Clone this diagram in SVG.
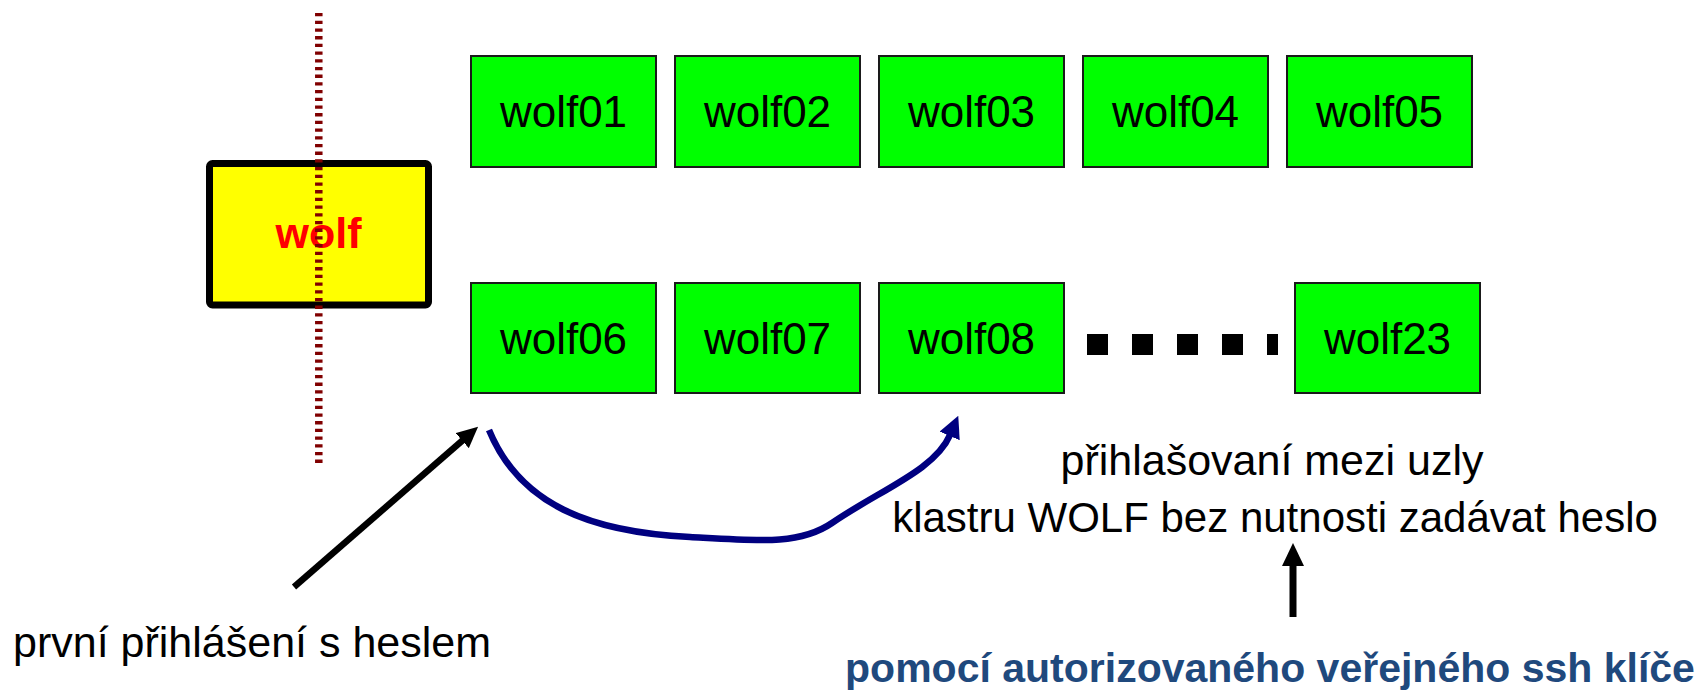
<svg xmlns="http://www.w3.org/2000/svg" width="1706" height="694" viewBox="0 0 1706 694">
<style>
  .node rect { fill: #00FF00; stroke: #1a1a1a; stroke-width: 2; }
  .node text { font-family: "Liberation Sans", Arial, sans-serif; font-size: 44px; fill: #000; text-anchor: middle; }
  .lbl { font-family: "Liberation Sans", Arial, sans-serif; fill: #000; }
</style>
<defs>
  <marker id="ahBlack" markerUnits="userSpaceOnUse" viewBox="0 -10 21 20" markerWidth="21" markerHeight="20" refX="1" refY="0" orient="auto">
    <path d="M0,-10 L21,0 L0,10 z" fill="#000"/>
  </marker>
  <marker id="ahUp" markerUnits="userSpaceOnUse" viewBox="0 -11 23 22" markerWidth="23" markerHeight="22" refX="1" refY="0" orient="auto">
    <path d="M0,-11 L23,0 L0,11 z" fill="#000"/>
  </marker>
  <marker id="ahBlue" markerUnits="userSpaceOnUse" viewBox="0 -11 22 22" markerWidth="22" markerHeight="22" refX="1" refY="0" orient="auto">
    <path d="M0,-11 L22,0 L0,11 z" fill="#000080"/>
  </marker>
</defs>
<rect x="0" y="0" width="1706" height="694" fill="#fff"/>

<g id="wolf">
  <rect x="209.5" y="163.5" width="219" height="141.5" rx="3" fill="#FFFF00" stroke="#000" stroke-width="7"/>
  <text x="318.5" y="248" font-family="Liberation Sans, Arial, sans-serif" font-weight="bold" font-size="43" fill="#FF0000" text-anchor="middle">wolf</text>
</g>
<line id="boundary" x1="318.8" y1="13" x2="318.8" y2="464" stroke="#800000" stroke-width="7.5" stroke-dasharray="3.3 4.4"/>

<g id="wolf01" class="node"><rect x="471" y="56" width="185" height="111"/><text x="563.5" y="127">wolf01</text></g>
<g id="wolf02" class="node"><rect x="675" y="56" width="185" height="111"/><text x="767.5" y="127">wolf02</text></g>
<g id="wolf03" class="node"><rect x="879" y="56" width="185" height="111"/><text x="971.5" y="127">wolf03</text></g>
<g id="wolf04" class="node"><rect x="1083" y="56" width="185" height="111"/><text x="1175.5" y="127">wolf04</text></g>
<g id="wolf05" class="node"><rect x="1287" y="56" width="185" height="111"/><text x="1379.5" y="127">wolf05</text></g>

<g id="wolf06" class="node"><rect x="471" y="283" width="185" height="110"/><text x="563.5" y="354">wolf06</text></g>
<g id="wolf07" class="node"><rect x="675" y="283" width="185" height="110"/><text x="767.5" y="354">wolf07</text></g>
<g id="wolf08" class="node"><rect x="879" y="283" width="185" height="110"/><text x="971.5" y="354">wolf08</text></g>
<g id="wolf23" class="node"><rect x="1295" y="283" width="185" height="110"/><text x="1387.5" y="354">wolf23</text></g>

<line id="ellipsis" x1="1087" y1="344.5" x2="1278" y2="344.5" stroke="#000" stroke-width="21" stroke-dasharray="21 24"/>

<g id="connectors">
  <line x1="294" y1="587" x2="463" y2="440" stroke="#000" stroke-width="6.5" marker-end="url(#ahBlack)"/>
  <path d="M489,430 C520,505 590,532 690,537 C760,541 800,545 832,523 C880,490 935,470 950,435" fill="none" stroke="#000080" stroke-width="6.5" marker-end="url(#ahBlue)"/>
  <line x1="1293" y1="617" x2="1293" y2="565" stroke="#000" stroke-width="7" marker-end="url(#ahUp)"/>
</g>

<g id="labels">
  <text class="lbl" x="13" y="657" font-size="43">první přihlášení s heslem</text>
  <text class="lbl" x="1272" y="475" font-size="43" text-anchor="middle">přihlašovaní mezi uzly</text>
  <text class="lbl" x="1275" y="532" font-size="42" text-anchor="middle">klastru WOLF bez nutnosti zadávat heslo</text>
  <text x="1270" y="682" font-family="Liberation Sans, Arial, sans-serif" font-weight="bold" font-size="41" fill="#1F497D" text-anchor="middle">pomocí autorizovaného veřejného ssh klíče</text>
</g>
</svg>
